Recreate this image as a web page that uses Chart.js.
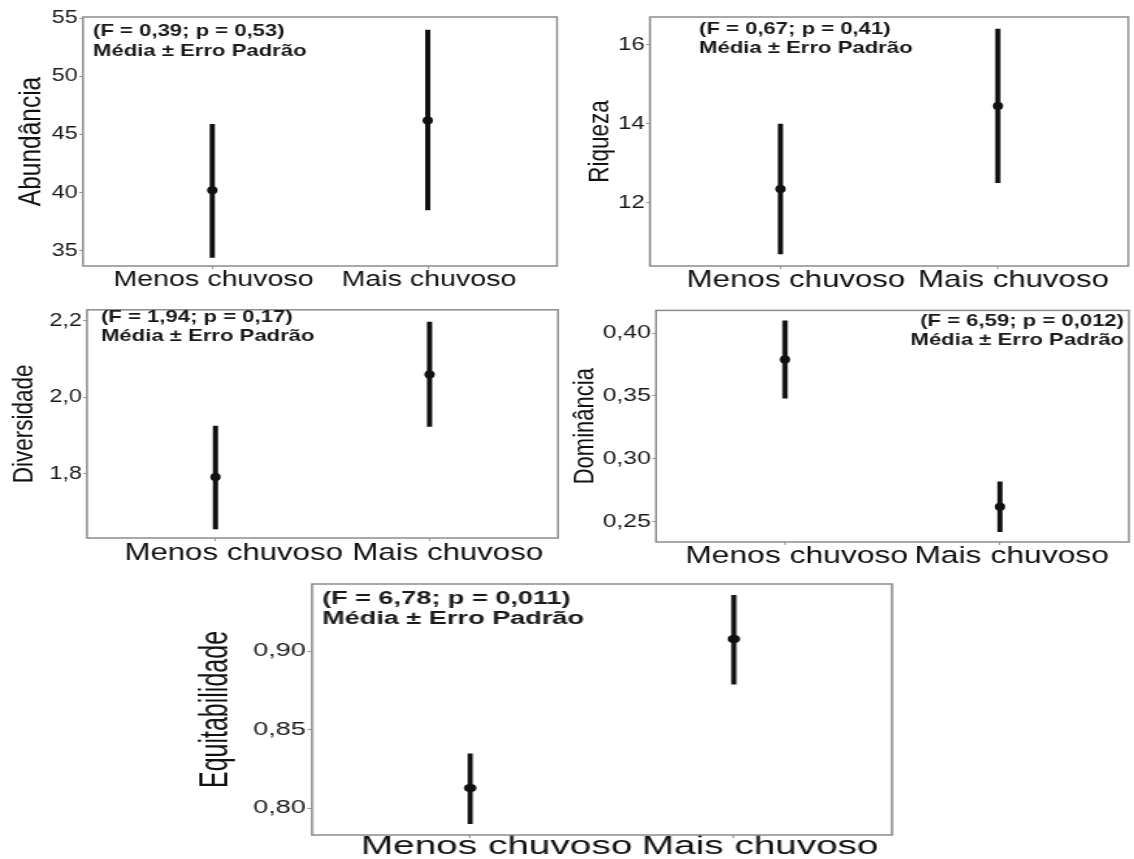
<!DOCTYPE html>
<html>
<head>
<meta charset="utf-8">
<script src="https://cdn.jsdelivr.net/npm/chart.js@4.4.1/dist/chart.umd.min.js"></script>
<style>
html, body { margin: 0; padding: 0; background: #fff; }
body { width: 1134px; height: 859px; position: relative; overflow: hidden; }
.panel { position: absolute; transform-origin: 0 0; }
.panel canvas { display: block; }
</style>
</head>
<body>
<div class="panel" id="wrap1"><canvas id="abundChart"></canvas></div>
<div class="panel" id="wrap2"><canvas id="riqChart"></canvas></div>
<div class="panel" id="wrap3"><canvas id="divChart"></canvas></div>
<div class="panel" id="wrap4"><canvas id="domChart"></canvas></div>
<div class="panel" id="wrap5"><canvas id="eqChart"></canvas></div>
<script>
const categories = ['Menos chuvoso', 'Mais chuvoso'];

// média e limites (média ± erro padrão)
const abundMean = [40.2, 46.2];
const abundLow = [34.4, 38.5];
const abundHigh = [45.9, 54.0];
const abundTicks = [35, 40, 45, 50, 55];

const riqMean = [12.35, 14.45];
const riqLow = [10.7, 12.5];
const riqHigh = [14.0, 16.4];
const riqTicks = [12, 14, 16];

const divMean = [1.792, 2.059];
const divLow = [1.656, 1.923];
const divHigh = [1.926, 2.197];
const divTicks = [1.8, 2.0, 2.2];

const domMean = [0.379, 0.262];
const domLow = [0.348, 0.242];
const domHigh = [0.410, 0.282];
const domTicks = [0.25, 0.30, 0.35, 0.40];

const eqMean = [0.813, 0.908];
const eqLow = [0.790, 0.879];
const eqHigh = [0.835, 0.936];
const eqTicks = [0.80, 0.85, 0.90];

const FONT = "'Liberation Sans', Arial, sans-serif";

// desenha a moldura do painel
const boxPlugin = {
    id: 'panelBox',
    beforeDatasetsDraw(chart) {
        const a = chart.chartArea;
        const ctx = chart.ctx;
        ctx.save();
        ctx.strokeStyle = '#8c8c8c';
        ctx.lineWidth = 1.5;
        ctx.strokeRect(a.left, a.top, a.right - a.left, a.bottom - a.top);
        ctx.restore();
    }
};

// texto (F; p) e "Média ± Erro Padrão"
const notePlugin = {
    id: 'statNote',
    afterDraw(chart, args, opts) {
        const ctx = chart.ctx;
        ctx.save();
        ctx.fillStyle = '#1a1a1a';
        ctx.font = 'bold ' + opts.size + 'px ' + FONT;
        ctx.textBaseline = 'middle';
        ctx.textAlign = opts.align;
        opts.lines.forEach((txt, i) => {
            ctx.fillText(txt, opts.x, opts.ys[i]);
        });
        ctx.restore();
    }
};

const formatTick = (v, dec) => v.toFixed(dec).replace('.', ',');

const makePanel = (canvasId, wrapId, d, p) => {
    const S = p.stretch;
    const cw = Math.round(p.w / S);
    const canvas = document.getElementById(canvasId);
    canvas.width = cw;
    canvas.height = p.h;
    const wrap = document.getElementById(wrapId);
    wrap.style.left = p.x + 'px';
    wrap.style.top = p.y + 'px';
    wrap.style.transform = 'scaleX(' + S + ')';

    const boxL = (p.box[0] - p.x) / S;
    const boxR = (p.box[2] - p.x) / S;
    const boxT = p.box[1] - p.y;
    const boxB = p.box[3] - p.y;
    const titleCenter = (p.titleX - p.x) / S;
    const noteX = (p.noteX - p.x) / S;

    const datasets = d.low.map((lo, i) => ({
        data: [{ x: i, y: lo }, { x: i, y: d.high[i] }],
        borderColor: '#111',
        borderWidth: p.barWidth,
        borderCapStyle: 'butt',
        pointRadius: 0
    }));
    datasets.push({
        type: 'scatter',
        data: d.mean.map((m, i) => ({ x: i, y: m })),
        backgroundColor: '#111',
        borderWidth: 0,
        pointRadius: 4
    });

    return new Chart(canvas, {
        type: 'line',
        data: { datasets: datasets },
        options: {
            responsive: false,
            animation: false,
            events: [],
            layout: { padding: { top: boxT, right: cw - boxR, left: 0, bottom: 0 } },
            plugins: {
                legend: { display: false },
                tooltip: { enabled: false },
                statNote: {
                    lines: d.note,
                    size: p.noteSize,
                    align: p.noteAlign,
                    x: noteX,
                    ys: p.noteY.map(y => y - p.y)
                }
            },
            scales: {
                x: {
                    type: 'linear',
                    min: -0.6,
                    max: 1.6,
                    afterBuildTicks: s => { s.ticks = [{ value: 0 }, { value: 1 }]; },
                    afterFit: s => { s.height = p.h - boxB; },
                    ticks: {
                        callback: v => categories[v],
                        autoSkip: false,
                        maxRotation: 0,
                        padding: p.catPad,
                        labelOffset: p.catShift,
                        color: '#111',
                        font: { family: FONT, size: p.catSize, lineHeight: p.catLine }
                    },
                    grid: { drawOnChartArea: false, tickLength: 3, color: '#999' },
                    border: { display: false }
                },
                y: {
                    min: d.min,
                    max: d.max,
                    afterBuildTicks: s => { s.ticks = d.ticks.map(v => ({ value: v })); },
                    afterFit: s => { s.width = boxL; },
                    ticks: {
                        callback: v => formatTick(v, d.dec),
                        padding: 1,
                        color: '#1a1a1a',
                        font: { family: FONT, size: p.tickSize }
                    },
                    grid: { drawOnChartArea: false, tickLength: 3, color: '#999' },
                    border: { display: false },
                    title: {
                        display: true,
                        text: d.label,
                        color: '#111',
                        font: { family: FONT, size: p.titleSize, lineHeight: 1.2 },
                        padding: { top: Math.max(titleCenter - p.titleSize * 0.6, 0), bottom: 0 }
                    }
                }
            }
        },
        plugins: [boxPlugin, notePlugin]
    });
};

const abundChart = makePanel('abundChart', 'wrap1', {
    label: 'Abundância', mean: abundMean, low: abundLow, high: abundHigh,
    ticks: abundTicks, min: 33.7, max: 55.1, dec: 0,
    note: ['(F = 0,39; p = 0,53)', 'Média ± Erro Padrão']
}, {
    x: 0, y: 0, w: 566, h: 298, box: [83, 17, 557, 266], stretch: 1.3, barWidth: 4,
    catSize: 22, catLine: '20px', catPad: 1, catShift: 1,
    tickSize: 18, titleSize: 24.5, titleX: 32,
    noteSize: 17, noteAlign: 'left', noteX: 93, noteY: [31, 51]
});

const riqChart = makePanel('riqChart', 'wrap2', {
    label: 'Riqueza', mean: riqMean, low: riqLow, high: riqHigh,
    ticks: riqTicks, min: 10.4, max: 16.7, dec: 0,
    note: ['(F = 0,67; p = 0,41)', 'Média ± Erro Padrão']
}, {
    x: 568, y: 0, w: 566, h: 298, box: [650, 17, 1132, 266], stretch: 1.3, barWidth: 4,
    catSize: 24, catLine: '20px', catPad: 1, catShift: 12,
    tickSize: 18.5, titleSize: 22.5, titleX: 600,
    noteSize: 17, noteAlign: 'left', noteX: 699, noteY: [29, 48]
});

const divChart = makePanel('divChart', 'wrap3', {
    label: 'Diversidade', mean: divMean, low: divLow, high: divHigh,
    ticks: divTicks, min: 1.633, max: 2.228, dec: 1,
    note: ['(F = 1,94; p = 0,17)', 'Média ± Erro Padrão']
}, {
    x: 0, y: 298, w: 566, h: 272, box: [87, 306, 558, 538], stretch: 1.3, barWidth: 4,
    catSize: 24, catLine: '20px', catPad: 2, catShift: 14,
    tickSize: 18, titleSize: 22.5, titleX: 25,
    noteSize: 17, noteAlign: 'left', noteX: 101, noteY: [317, 336]
});

const domChart = makePanel('domChart', 'wrap4', {
    label: 'Dominância', mean: domMean, low: domLow, high: domHigh,
    ticks: domTicks, min: 0.234, max: 0.418, dec: 2,
    note: ['(F = 6,59; p = 0,012)', 'Média ± Erro Padrão']
}, {
    x: 566, y: 298, w: 568, h: 272, box: [656, 309, 1129, 542], stretch: 1.3, barWidth: 4,
    catSize: 24.5, catLine: '20px', catPad: 1, catShift: 9,
    tickSize: 19, titleSize: 22, titleX: 585,
    noteSize: 17, noteAlign: 'right', noteX: 1124, noteY: [321, 340]
});

const eqChart = makePanel('eqChart', 'wrap5', {
    label: 'Equitabilidade', mean: eqMean, low: eqLow, high: eqHigh,
    ticks: eqTicks, min: 0.783, max: 0.943, dec: 2,
    note: ['(F = 6,78; p = 0,011)', 'Média ± Erro Padrão']
}, {
    x: 190, y: 572, w: 720, h: 287, box: [312, 584, 892, 835], stretch: 1.55, barWidth: 3.3,
    catSize: 25, catLine: '18px', catPad: 0, catShift: 17,
    tickSize: 17.5, titleSize: 25, titleX: 217,
    noteSize: 17.5, noteAlign: 'left', noteX: 322, noteY: [599, 619]
});
</script>
</body>
</html>
